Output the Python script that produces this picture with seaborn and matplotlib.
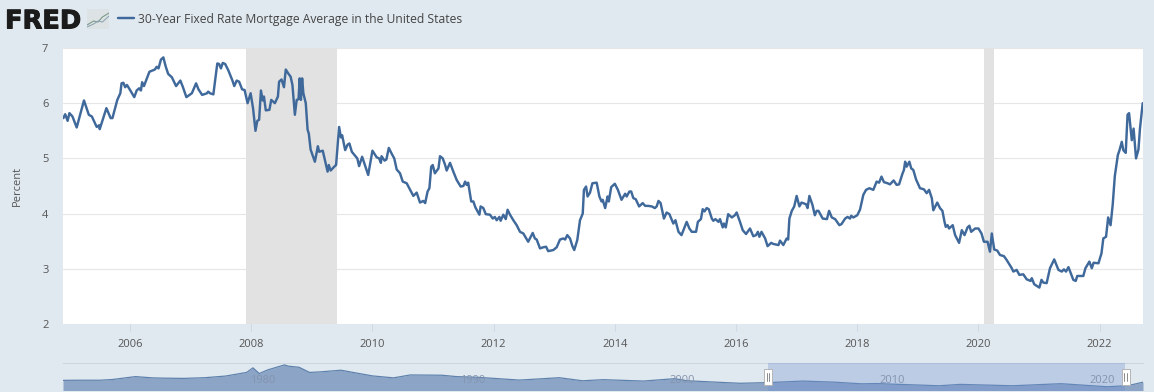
import numpy as np
import pandas as pd
import matplotlib.pyplot as plt
from matplotlib.patches import Rectangle
import matplotlib.patheffects as pe
import seaborn as sns

W, H = 1154, 392

# weekly-ish rate, (decimal year, percent)
dates_a = [2004.90,2004.93,2004.97,2005.00,2005.05,2005.12,2005.24,2005.32,2005.37,2005.45,2005.49,2005.50,2005.61,2005.68,2005.71,2005.79,2005.84,2005.86,2005.89,2005.92,2005.95,2006.00,2006.07,2006.11,2006.15,2006.18,2006.20,2006.23,2006.32,2006.41,2006.44,2006.47,2006.51,2006.55,2006.59,2006.63,2006.69,2006.76,2006.83,2006.87,2006.93,2007.02,2007.09,2007.13,2007.19,2007.27,2007.29,2007.32,2007.375,2007.44,2007.47,2007.50,2007.53,2007.57,2007.62,2007.69,2007.72,2007.76,2007.80,2007.85,2007.89,2007.94,2007.99]
rates_a = [5.73,5.80,5.68,5.82,5.76,5.56,6.05,5.79,5.76,5.57,5.60,5.53,5.91,5.73,5.73,6.06,6.18,6.36,6.37,6.29,6.33,6.24,6.11,6.23,6.27,6.23,6.38,6.31,6.57,6.61,6.66,6.63,6.79,6.83,6.66,6.53,6.47,6.31,6.41,6.30,6.11,6.18,6.36,6.25,6.15,6.18,6.21,6.18,6.16,6.72,6.71,6.63,6.73,6.71,6.60,6.41,6.31,6.41,6.39,6.25,6.24,6.00,6.18]

dates_b = [2008.03,2008.07,2008.10,2008.13,2008.16,2008.19,2008.21,2008.24,2008.30,2008.33,2008.39,2008.44,2008.46,2008.50,2008.54,2008.57,2008.61,2008.65,2008.68,2008.72,2008.75,2008.78,2008.80,2008.82,2008.84,2008.86,2008.90,2008.93,2008.95,2008.98,2009.05,2009.10,2009.12,2009.18,2009.26,2009.28,2009.31,2009.37,2009.40,2009.45,2009.48,2009.50,2009.55,2009.59,2009.62,2009.66,2009.72,2009.75,2009.78,2009.83,2009.93,2010.00,2010.07,2010.11,2010.14,2010.15,2010.20,2010.23,2010.27,2010.32,2010.36,2010.40,2010.455,2010.50,2010.565,2010.675,2010.73,2010.785,2010.84,2010.87,2010.91,2010.94,2010.97,2010.995,2011.03,2011.09,2011.115,2011.16,2011.20,2011.225,2011.28,2011.335,2011.39,2011.456,2011.50,2011.53,2011.555,2011.58,2011.63,2011.665,2011.70,2011.765,2011.785,2011.83,2011.87,2011.94,2011.985]
rates_b = [5.91,5.50,5.68,5.70,6.23,6.05,6.12,5.87,5.88,6.06,6.00,6.12,6.39,6.43,6.29,6.61,6.54,6.48,6.33,5.79,6.06,6.07,6.45,6.06,6.45,6.18,6.00,5.52,5.45,5.16,4.94,5.22,5.12,5.14,4.76,4.88,4.78,4.85,4.88,5.57,5.38,5.42,5.15,5.25,5.27,5.12,5.04,5.00,4.86,5.03,4.70,5.14,5.02,5.00,4.92,5.04,4.96,4.98,5.19,5.08,5.00,4.80,4.73,4.58,4.55,4.32,4.38,4.20,4.23,4.19,4.40,4.46,4.85,4.88,4.73,4.82,5.04,5.00,4.88,4.78,4.92,4.76,4.61,4.49,4.50,4.58,4.52,4.56,4.22,4.22,4.11,3.98,4.13,4.10,3.99,3.98,3.91]

dates_c = [2012.02,2012.05,2012.095,2012.115,2012.16,2012.20,2012.23,2012.27,2012.325,2012.38,2012.435,2012.49,2012.57,2012.645,2012.68,2012.71,2012.765,2012.82,2012.865,2012.90,2012.985,2013.04,2013.095,2013.15,2013.18,2013.215,2013.26,2013.30,2013.33,2013.38,2013.425,2013.47,2013.49,2013.525,2013.55,2013.59,2013.63,2013.70,2013.745,2013.78,2013.80,2013.84,2013.88,2013.90,2013.94,2014.00,2014.05,2014.11,2014.17,2014.195,2014.24,2014.27,2014.305,2014.345,2014.40,2014.46,2014.50,2014.55,2014.61,2014.66,2014.69,2014.72,2014.755,2014.81,2014.855,2014.90,2014.965,2015.00,2015.05,2015.10,2015.185,2015.23,2015.27,2015.34,2015.37,2015.42,2015.45,2015.48,2015.515,2015.55,2015.60,2015.625,2015.66,2015.71,2015.735,2015.78,2015.80,2015.83,2015.87,2015.93,2015.98,2016.01,2016.065,2016.11,2016.165,2016.23,2016.285,2016.33,2016.36,2016.385,2016.42,2016.48,2016.52,2016.58,2016.615,2016.70,2016.725,2016.78,2016.835,2016.86,2016.88,2016.92,2016.96,2017.00,2017.045,2017.08,2017.155,2017.18,2017.21]
rates_c = [3.94,3.88,3.94,3.87,3.98,3.90,4.07,3.98,3.88,3.79,3.67,3.64,3.49,3.65,3.55,3.53,3.37,3.39,3.40,3.32,3.34,3.39,3.53,3.55,3.53,3.61,3.55,3.41,3.34,3.52,3.88,4.00,4.43,4.49,4.31,4.38,4.55,4.56,4.31,4.22,4.25,4.10,4.31,4.22,4.48,4.54,4.43,4.25,4.36,4.31,4.40,4.40,4.28,4.26,4.13,4.19,4.14,4.14,4.13,4.10,4.13,4.23,4.19,3.91,4.02,3.99,3.82,3.88,3.67,3.61,3.85,3.73,3.67,3.67,3.85,3.90,4.08,4.04,4.10,4.08,3.91,3.87,3.90,3.85,3.90,3.75,3.82,3.75,3.99,3.93,3.97,4.02,3.85,3.70,3.63,3.73,3.59,3.61,3.67,3.58,3.67,3.55,3.41,3.47,3.45,3.43,3.51,3.43,3.55,3.53,3.91,4.05,4.13,4.32,4.13,4.20,4.17,4.10,4.32]

dates_d = [2017.26,2017.30,2017.33,2017.36,2017.43,2017.50,2017.535,2017.58,2017.635,2017.705,2017.74,2017.80,2017.84,2017.88,2017.90,2017.935,2018.00,2018.045,2018.10,2018.145,2018.20,2018.265,2018.32,2018.36,2018.40,2018.44,2018.50,2018.54,2018.60,2018.65,2018.69,2018.745,2018.77,2018.79,2018.815,2018.86,2018.89,2018.925,2018.97,2019.035,2019.10,2019.145,2019.185,2019.23,2019.255,2019.32,2019.365,2019.405,2019.44,2019.46,2019.49,2019.515,2019.575,2019.615,2019.68,2019.725,2019.77,2019.82,2019.85,2019.88,2019.945,2020.00,2020.05,2020.09,2020.15,2020.19,2020.22,2020.26,2020.31,2020.355,2020.42,2020.465,2020.55,2020.575,2020.63,2020.675,2020.74,2020.795,2020.86,2020.88,2020.92,2021.005,2021.04,2021.07,2021.125,2021.18,2021.25,2021.32,2021.375,2021.41,2021.445,2021.485,2021.565,2021.605,2021.63,2021.73,2021.765,2021.83,2021.87,2021.90,2021.98,2022.03,2022.06,2022.105,2022.14,2022.18,2022.215,2022.25,2022.30,2022.325,2022.365,2022.39,2022.43,2022.46,2022.485,2022.53,2022.56,2022.60,2022.64,2022.665,2022.71]
rates_d = [4.16,3.97,4.05,4.05,3.91,3.90,4.05,3.93,3.90,3.79,3.81,3.91,3.94,3.91,3.96,3.93,3.97,4.07,4.34,4.43,4.46,4.43,4.58,4.56,4.67,4.57,4.55,4.53,4.60,4.52,4.53,4.72,4.79,4.94,4.85,4.94,4.82,4.79,4.62,4.46,4.44,4.37,4.43,4.28,4.06,4.20,4.10,4.05,3.85,3.76,3.79,3.73,3.79,3.61,3.47,3.70,3.61,3.75,3.78,3.67,3.73,3.73,3.64,3.49,3.49,3.31,3.64,3.35,3.33,3.25,3.23,3.16,3.01,2.95,2.98,2.89,2.90,2.81,2.78,2.83,2.72,2.66,2.80,2.75,2.74,3.01,3.17,2.98,2.95,2.99,2.95,3.03,2.80,2.78,2.87,2.87,3.01,3.13,3.01,3.11,3.10,3.28,3.55,3.58,3.93,3.79,4.16,4.68,5.06,5.14,5.30,5.15,5.10,5.79,5.82,5.33,5.54,5.00,5.16,5.54,6.00]

# long history for the navigator strip
nav_years = [1971.25,1972,1973,1973.6,1974.7,1975.5,1976,1977,1978,1979,1979.8,1980.0,1980.3,1980.6,1981,1981.8,1982,1982.5,1983,1983.5,1984.5,1985,1986,1987,1987.8,1989.3,1990,1991,1993,1994.9,1996,1997,1998.9,2000.4,2001,2003.5,2004.9,2006.5,2008,2009.3,2010,2013,2014,2016.5,2018.8,2021,2022,2022.71]
nav_rates = [7.3,7.4,7.4,7.9,10.0,9.1,8.9,8.7,9.2,10.4,12.5,13.0,16.3,12.2,14.8,18.4,17.5,16.7,13.0,13.4,14.6,13.2,10.5,9.1,11.2,11.0,10.0,9.5,7.5,9.2,7.0,7.8,6.8,8.5,7.0,5.2,5.7,6.8,6.0,4.8,5.0,3.4,4.4,3.4,4.9,2.7,3.5,6.0]
nav_labels = [1980, 1990, 2000, 2010, 2020]

rec_starts = [2007.92, 2020.09]
rec_ends = [2009.42, 2020.25]
x_ticks = [2006, 2008, 2010, 2012, 2014, 2016, 2018, 2020, 2022]
y_ticks = [2, 3, 4, 5, 6, 7]

title = "30-Year Fixed Rate Mortgage Average in the United States"
bg = "#E1E9F0"
blue = "#40699B"
txt = "#555555"

def px_axes(fig, left, top, right, bottom):
    return fig.add_axes([left / W, 1 - bottom / H, (right - left) / W, (bottom - top) / H])

sns.set_theme(style="white")
plt.rcParams["font.family"] = ["Open Sans", "DejaVu Sans"]

df = pd.DataFrame({"year": dates_a + dates_b + dates_c + dates_d,
                   "rate": rates_a + rates_b + rates_c + rates_d})
nav = pd.DataFrame({"year": nav_years, "rate": nav_rates})

fig = plt.figure(figsize=(W / 100, H / 100), dpi=100, facecolor=bg)

# main chart
ax = px_axes(fig, 63, 48, 1143, 324)
ax.set_facecolor("white")
for s, e in zip(rec_starts, rec_ends):
    ax.axvspan(s, e, color="#E2E2E2", lw=0, zorder=1)
sns.lineplot(data=df, x="year", y="rate", ax=ax, color=blue, lw=1.75, estimator=None,
             sort=False, label=title, zorder=3)
ax.set_xlim(2004.894, 2022.715)
ax.set_ylim(2, 7)
ax.set_xticks(x_ticks)
ax.set_yticks(y_ticks)
ax.grid(axis="y", color="#E6E6E6", lw=0.8, zorder=0)
ax.set_axisbelow(True)
sns.despine(ax=ax, left=True, bottom=True, top=True, right=True)
ax.tick_params(axis="x", length=5, width=0.8, color="#CFD8E6", labelsize=8, labelcolor=txt, pad=6, bottom=True)
ax.tick_params(axis="y", length=0, labelsize=8, labelcolor=txt, pad=10.5)
ax.set_xlabel("")
ax.set_ylabel("Percent", fontsize=8, color=txt, labelpad=0)
ax.yaxis.set_label_coords((23 - 63) / 1080, 0.5)

leg = ax.legend(loc="center left", bbox_to_anchor=(118 / W, 1 - 19 / H), bbox_transform=fig.transFigure,
                frameon=False, fontsize=8.7, handlelength=1.35, handletextpad=0.3,
                borderpad=0, borderaxespad=0, labelcolor="#444444")

# navigator strip
nx = px_axes(fig, 63, 363, 1143, 390.5)
nx.patch.set_alpha(0)
nx.fill_between(nav["year"], nav["rate"], color="#8CA5C6", lw=0, zorder=2)
sns.lineplot(data=nav, x="year", y="rate", ax=nx, color="#5F82AD", lw=0.9, estimator=None, zorder=3)
for y in nav_labels:
    nx.annotate(str(y), (y, 0), xytext=(2.5, 7), textcoords="offset points", fontsize=8,
                color="#8494AE", ha="left", va="center", zorder=5)
nx.axvspan(2004.85, 2021.85, color="#6F8FD0", alpha=0.32, lw=0, zorder=4)
nx.set_xlim(1971.25, 2022.71)
nx.set_ylim(0, 19.8)
nx.set_xticks([])
nx.set_yticks([])
nx.set_xlabel("")
nx.set_ylabel("")
sns.despine(ax=nx, left=True, bottom=True, right=True, top=False)
nx.spines["top"].set_color("#CCD4DE")
nx.spines["top"].set_linewidth(0.8)

# navigator handles
for hx in [768, 1125.5]:
    fig.add_artist(Rectangle(((hx - 4) / W, 1 - 385 / H), 8 / W, 16 / H, transform=fig.transFigure,
                             fc="white", ec="#B5B5B5", lw=0.7, zorder=6))
    for off in [-1.2, 1.2]:
        fig.add_artist(plt.Line2D([(hx + off) / W] * 2, [1 - 381 / H, 1 - 373 / H],
                                  color="#777777", lw=0.6, zorder=7))

# logo
fig.text(5 / W, 1 - 28.5 / H, "FRED", family="DejaVu Sans", fontweight="bold", fontsize=18.5,
         color="#1B1B1B", ha="left", va="baseline",
         path_effects=[pe.withStroke(linewidth=0.7, foreground="#1B1B1B")])
icon = px_axes(fig, 87, 9, 109, 29)
icon.set_facecolor("#DDE3E4")
icon.plot([0, 3, 5, 7, 10], [2, 4, 3.5, 6, 8], color="#7E9A8A", lw=0.8)
icon.plot([0, 3, 5, 7, 10], [1, 2.5, 4, 3.5, 6.5], color="#8FA6B5", lw=0.8)
icon.set_xlim(0, 10)
icon.set_ylim(0, 10)
icon.set_xticks([])
icon.set_yticks([])
sns.despine(ax=icon, left=True, bottom=True)

fig.savefig("out.png", dpi=100, facecolor=bg)
